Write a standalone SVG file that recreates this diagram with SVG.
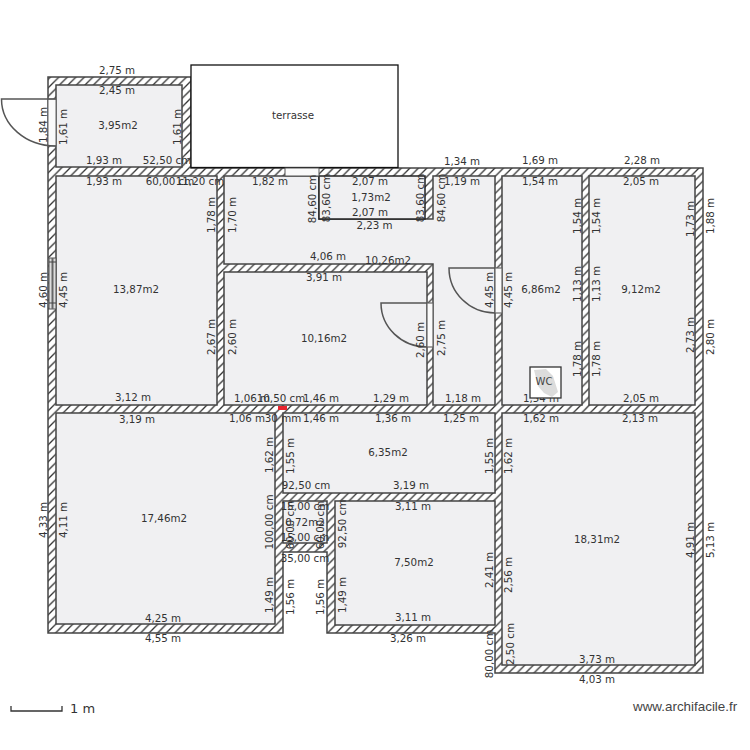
<svg xmlns="http://www.w3.org/2000/svg" width="750" height="750" viewBox="0 0 750 750">
<style>
.r{fill:#f0f0f2;stroke:#444;stroke-width:1.5}
.t text,text.l{font-family:"DejaVu Sans",Verdana,sans-serif;font-size:10.3px;fill:#333;text-anchor:middle}
.d{fill:none;stroke:#555;stroke-width:1.5}
.k{stroke:#333;stroke-width:1.3;fill:none}
.o{fill:#fafafa;stroke:#666;stroke-width:1.2}
</style>
<defs>
<pattern id="hatch" patternUnits="userSpaceOnUse" width="8.5" height="8.5">
<rect width="8.5" height="8.5" fill="#fff"/>
<path d="M-1.5,1.500L1.500,-1.500M0,8.500L8.500,0M7,10L10,7" stroke="#333" stroke-width="1.300"/>
</pattern>
</defs>
<rect width="750" height="750" fill="#fff"/>
<g id="walls">
<path d="M48,77H191V168H703V673H495V633H327V552H283V633H48Z" fill="url(#hatch)" stroke="#444" stroke-width="1.5"/>
</g>
<g id="room-395"><rect class="r" x="56" y="85" width="126" height="82"/></g>
<g id="room-1387"><rect class="r" x="56" y="176" width="161" height="229"/></g>
<g id="room-1026"><path class="r" d="M224,176H319V219H433V176H495V405H433V264H224Z"/></g>
<g id="room-173"><rect x="319" y="176" width="106" height="43" fill="#f0f0f2" stroke="#222" stroke-width="1.5"/></g>
<g id="room-1016"><rect class="r" x="224" y="272" width="203" height="133"/></g>
<g id="room-686"><rect class="r" x="502" y="176" width="80" height="229"/></g>
<g id="room-912"><rect class="r" x="589" y="176" width="106" height="229"/></g>
<g id="room-1746"><rect class="r" x="56" y="413" width="219" height="211"/></g>
<g id="room-635"><rect class="r" x="283" y="413" width="212" height="80"/></g>
<g id="room-072"><rect class="r" x="283" y="501" width="44" height="42"/></g>
<g id="room-750"><rect class="r" x="335" y="501" width="160" height="124"/></g>
<g id="room-1831"><rect class="r" x="502" y="413" width="193" height="252"/></g>
<g id="terrasse">
<rect x="191" y="65" width="207" height="102.500" fill="#fff" stroke="#111" stroke-width="1.300"/>
<text class="l" x="293" y="119">terrasse</text>
</g>
<g id="openings">
<rect x="285" y="168" width="34" height="8" fill="#fafafa" stroke="#555" stroke-width="1"/>
<rect x="48" y="99" width="8" height="47" fill="#fafafa" stroke="#666" stroke-width="1"/>
<rect class="o" x="427" y="303" width="6" height="44"/>
<rect class="o" x="495" y="268" width="7" height="45"/>
<rect x="49" y="258" width="7" height="51" fill="#ddd" stroke="#555" stroke-width="1"/>
<path d="M52.500,258V309" stroke="#666" stroke-width="2" fill="none"/>
<path d="M49,262H56M49,303H56" stroke="#444" fill="none"/>
<rect x="278" y="406" width="9" height="4" fill="#e8242e"/>
</g>
<g id="doors">
<path class="d" d="M56,99H1.500A54,47 0 0 0 56,146"/>
<path class="d" d="M427,303H381A46,44 0 0 0 427,347"/>
<path class="d" d="M495,268H449A46,45 0 0 0 495,313"/>
</g>
<g id="labels" class="t">
<text x="117" y="74">2,75 m</text>
<text x="117" y="94">2,45 m</text>
<text x="118" y="129">3,95m2</text>
<text x="104" y="164">1,93 m</text>
<text x="167" y="164">52,50 cm</text>
<text x="104" y="185">1,93 m</text>
<text x="170" y="185">60,00 cm</text>
<text x="200" y="185">11,20 cm</text>
<text x="270" y="185">1,82 m</text>
<text x="370" y="185">2,07 m</text>
<text x="371" y="201">1,73m2</text>
<text x="370" y="216">2,07 m</text>
<text x="374.500" y="229">2,23 m</text>
<text x="462" y="185">1,19 m</text>
<text x="462" y="165">1,34 m</text>
<text x="328" y="260">4,06 m</text>
<text x="388" y="264">10,26m2</text>
<text x="324" y="281">3,91 m</text>
<text x="540" y="164">1,69 m</text>
<text x="642" y="164">2,28 m</text>
<text x="540" y="185">1,54 m</text>
<text x="641" y="185">2,05 m</text>
<text x="541" y="293">6,86m2</text>
<text x="641" y="293">9,12m2</text>
<text x="136" y="293">13,87m2</text>
<text x="324" y="342">10,16m2</text>
<text x="133" y="401">3,12 m</text>
<text x="252" y="402">1,06 m</text>
<text x="281" y="402">10,50 cm</text>
<text x="321" y="402">1,46 m</text>
<text x="391" y="402">1,29 m</text>
<text x="463" y="402">1,18 m</text>
<text x="541" y="402">1,54 m</text>
<text x="641" y="402">2,05 m</text>
<text x="137" y="423">3,19 m</text>
<text x="247" y="422">1,06 m</text>
<text x="283" y="422">30 mm</text>
<text x="321" y="422">1,46 m</text>
<text x="393" y="422">1,36 m</text>
<text x="461" y="422">1,25 m</text>
<text x="541" y="422">1,62 m</text>
<text x="640" y="422">2,13 m</text>
<text x="388" y="456">6,35m2</text>
<text x="306" y="489">92,50 cm</text>
<text x="411" y="489">3,19 m</text>
<text x="413" y="510">3,11 m</text>
<text x="164" y="522">17,46m2</text>
<text x="597" y="543">18,31m2</text>
<text x="414" y="566">7,50m2</text>
<text x="413" y="621">3,11 m</text>
<text x="163" y="622">4,25 m</text>
<text x="163" y="642">4,55 m</text>
<text x="408" y="642">3,26 m</text>
<text x="597" y="663">3,73 m</text>
<text x="597" y="683">4,03 m</text>
<text x="305" y="526">0,72m2</text>
<text x="305" y="510">15,00 cm</text>
<text x="305" y="541">15,00 cm</text>
<text x="305" y="562">35,00 cm</text>
<text transform="translate(47,125) rotate(-90)">1,84 m</text>
<text transform="translate(67,127) rotate(-90)">1,61 m</text>
<text transform="translate(181,127) rotate(-90)">1,61 m</text>
<text transform="translate(215,215) rotate(-90)">1,78 m</text>
<text transform="translate(236,215) rotate(-90)">1,70 m</text>
<text transform="translate(316,199) rotate(-90)">84,60 cm</text>
<text transform="translate(330,198) rotate(-90)">83,60 cm</text>
<text transform="translate(424,198) rotate(-90)">83,60 cm</text>
<text transform="translate(445,198) rotate(-90)">84,60 cm</text>
<text transform="translate(47,290) rotate(-90)">4,60 m</text>
<text transform="translate(67,290) rotate(-90)">4,45 m</text>
<text transform="translate(215,337) rotate(-90)">2,67 m</text>
<text transform="translate(236,337) rotate(-90)">2,60 m</text>
<text transform="translate(424,340) rotate(-90)">2,60 m</text>
<text transform="translate(445,338) rotate(-90)">2,75 m</text>
<text transform="translate(493,290) rotate(-90)">4,45 m</text>
<text transform="translate(512,290) rotate(-90)">4,45 m</text>
<text transform="translate(581,216) rotate(-90)">1,54 m</text>
<text transform="translate(600,216) rotate(-90)">1,54 m</text>
<text transform="translate(581,284) rotate(-90)">1,13 m</text>
<text transform="translate(600,284) rotate(-90)">1,13 m</text>
<text transform="translate(581,359) rotate(-90)">1,78 m</text>
<text transform="translate(600,359) rotate(-90)">1,78 m</text>
<text transform="translate(694,219) rotate(-90)">1,73 m</text>
<text transform="translate(714,216) rotate(-90)">1,88 m</text>
<text transform="translate(694,335) rotate(-90)">2,73 m</text>
<text transform="translate(714,337) rotate(-90)">2,80 m</text>
<text transform="translate(273,455) rotate(-90)">1,62 m</text>
<text transform="translate(294,456) rotate(-90)">1,55 m</text>
<text transform="translate(493,456) rotate(-90)">1,55 m</text>
<text transform="translate(512,456) rotate(-90)">1,62 m</text>
<text transform="translate(47,520) rotate(-90)">4,33 m</text>
<text transform="translate(67,520) rotate(-90)">4,11 m</text>
<text transform="translate(273,522) rotate(-90)">100,00 cm</text>
<text transform="translate(294,525) rotate(-90)">60,00 cm</text>
<text transform="translate(324,525) rotate(-90)">60,00 cm</text>
<text transform="translate(346,524) rotate(-90)">92,50 cm</text>
<text transform="translate(273,595) rotate(-90)">1,49 m</text>
<text transform="translate(294,597) rotate(-90)">1,56 m</text>
<text transform="translate(324,597) rotate(-90)">1,56 m</text>
<text transform="translate(346,595) rotate(-90)">1,49 m</text>
<text transform="translate(493,570) rotate(-90)">2,41 m</text>
<text transform="translate(512,575) rotate(-90)">2,56 m</text>
<text transform="translate(514,644) rotate(-90)">2,50 cm</text>
<text transform="translate(493,654) rotate(-90)">80,00 cm</text>
<text transform="translate(694,540) rotate(-90)">4,91 m</text>
<text transform="translate(714,540) rotate(-90)">5,13 m</text>
</g>
<g id="wc">
<rect x="530" y="367" width="31" height="31" fill="#fff" stroke="#333" stroke-width="1.300"/>
<path d="M534,370L546,369L553,376L558,392L552,397L544,393L538,386Z" fill="#dcdcdc"/>
<text x="544" y="385" style="font-family:'DejaVu Sans',sans-serif;font-size:10px;fill:#444;text-anchor:middle">WC</text>
</g>
<g id="scale">
<path class="k" d="M11,706V711H62V706"/>
<text x="70" y="713" style="font-family:'DejaVu Sans',sans-serif;font-size:13px;fill:#333">1 m</text>
</g>
<text x="633" y="711" style="font-family:'Liberation Sans',Arial,sans-serif;font-size:13.400px;fill:#444">www.archifacile.fr</text>
</svg>
